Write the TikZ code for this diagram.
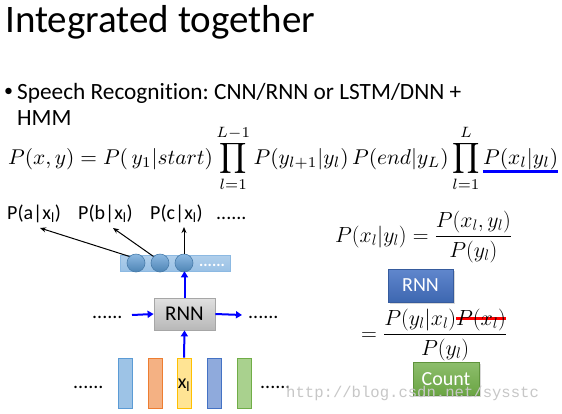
\documentclass[tikz,border=0pt]{standalone}
\usepackage{amsmath}
\usepackage{fontspec}
\setmainfont{Carlito}[Ligatures=NoCommon]
\newfontfamily\wmfont{Liberation Mono}
\usetikzlibrary{arrows.meta,shadows}
\frenchspacing
\definecolor{lbfill}{HTML}{9DC3E6}\definecolor{lbdraw}{HTML}{5B9BD5}
\definecolor{sfill}{HTML}{F4B183}\definecolor{sdraw}{HTML}{ED7D31}
\definecolor{yfill}{HTML}{FFD966}\definecolor{ydraw}{HTML}{FFC000}
\definecolor{pfill}{HTML}{8FAADC}\definecolor{pdraw}{HTML}{4472C4}
\definecolor{gfill}{HTML}{A9D18E}\definecolor{gdraw}{HTML}{70AD47}
\definecolor{rnnblue}{HTML}{4472C4}\definecolor{cntgreen}{HTML}{70AD47}
\newcommand\ulblue[1]{\setbox0\hbox{$#1$}\rlap{\color{blue}\rule[-4.2pt]{\wd0}{1.5pt}}\box0}
\newcommand\strikered[1]{\setbox0\hbox{$#1$}\rlap{\color{red}\rule[4.6pt]{\wd0}{2.7pt}}\box0}
\tikzset{
  lbl/.style={anchor=base west, inner sep=0pt, font=\fontsize{20}{22}\selectfont},
  dots/.style={anchor=base west, inner sep=0pt, font=\fontsize{20}{22}\selectfont},
  bluearr/.style={draw=blue, line width=2pt, -{Triangle[length=6pt,width=7pt]}},
  blackarr/.style={draw=black, line width=1pt, -{Stealth[length=6pt,width=5pt]}},
  inbar/.style={draw=#1draw, line width=0.8pt, fill=#1fill},
  ball/.style={circle, minimum size=18pt, inner sep=0pt, draw=lbdraw!80!black, line width=0.6pt, top color=lbdraw!70!white, bottom color=lbdraw!85!black},
  eq/.style={inner sep=0pt, font=\fontsize{20.74}{24}\selectfont},
}
\begin{document}
\begin{tikzpicture}[x=1pt,y=-1pt]
\useasboundingbox[fill=white] (0,0) rectangle (562,413);
% title
\node[anchor=base west, inner sep=0pt, font=\fontsize{39}{42}\selectfont] (title) at (5,32) {Integrated together};
% bullet
\node[anchor=base west, inner sep=0pt, font=\fontsize{18}{20}\selectfont] (bul) at (4,96) {•};
\node[anchor=base west, inner sep=0pt, font=\fontsize{23.3}{26}\selectfont] (b1) at (17,99) {Speech Recognition: CNN/RNN or LSTM/DNN +};
\node[anchor=base west, inner sep=0pt, font=\fontsize{23.3}{26}\selectfont] (b2) at (17,125) {HMM};
% main formula
\node[anchor=base west, inner sep=0pt] (f1) at (8,164) {\resizebox{550pt}{!}{$\displaystyle P(x,y)=P(\,y_1|start)\prod_{l=1}^{L-1}P(y_{l+1}|y_l)\,P(end|y_L)\prod_{l=1}^{L}\ulblue{P(x_l|y_l)}$}};
% labels
\node[lbl] (pa) at (7,219) {P(a|x\textsubscript{l})};
\node[lbl] (pb) at (78,219) {P(b|x\textsubscript{l})};
\node[lbl] (pc) at (150,219) {P(c|x\textsubscript{l})};
\node[dots] (pdots) at (216,219) {......};
% output bar
\node[draw=lbdraw!70!white, line width=0.6pt, top color=lbfill!80!white, bottom color=lbfill!95!lbdraw, minimum width=110pt, minimum height=16pt, inner sep=0pt] (bar) at (175,263) {};
\node[ball] (c1) at (136,263) {};
\node[ball] (c2) at (160,263) {};
\node[ball] (c3) at (184,263) {};
\node[anchor=base west, inner sep=0pt, text=white, font=\fontsize{16}{18}\selectfont\bfseries] (bdots) at (199,266) {......};
% RNN box
\node[draw=black!35, line width=0.8pt, top color=black!12, bottom color=black!28, minimum width=61pt, minimum height=32pt, inner sep=0pt, font=\fontsize{21}{24}\selectfont, drop shadow={opacity=0.25, shadow xshift=1pt, shadow yshift=-1pt}] (rnn) at (184.5,314) {RNN};
\node[dots] (ldots) at (92,318) {......};
\node[dots] (rdots) at (248,318) {......};
\coordinate (lin) at (132,315);
\coordinate (rout) at (242,315);
% inputs
\node[inbar=lb, minimum width=14pt, minimum height=50pt, inner sep=0pt] (i1) at (125,383) {};
\node[inbar=s, minimum width=14pt, minimum height=50pt, inner sep=0pt] (i2) at (155,383) {};
\node[inbar=y, fill=yfill!70!white, minimum width=14pt, minimum height=50pt, inner sep=0pt] (i3) at (184,383) {};
\node[inbar=p, minimum width=14pt, minimum height=50pt, inner sep=0pt] (i4) at (214,383) {};
\node[inbar=g, minimum width=14pt, minimum height=50pt, inner sep=0pt] (i5) at (244,383) {};
\node[anchor=base, inner sep=0pt, font=\fontsize{20}{22}\selectfont] (xl) at (184,388) {x\textsubscript{l}};
\node[dots] (ildots) at (73,388) {......};
\node[dots] (irdots) at (260,388) {......};
% arrows
\draw[blackarr] (c1.north west) -- (40,228);
\draw[blackarr] (c2.north west) -- (113,228);
\draw[blackarr] (c3.north) -- (184,227);
\draw[bluearr] (rnn.north) -- (bar.south -| rnn.north);
\draw[bluearr] (i3.north) -- (rnn.south);
\draw[bluearr] (lin) -- (rnn.west);
\draw[bluearr] (rnn.east) -- (rout);
% right formulas
\node[eq, anchor=base west] (e1) at (335,242) {\resizebox{177pt}{!}{$P(x_l|y_l)=\dfrac{P(x_l,y_l)}{P(y_l)}$}};
\node[draw=rnnblue!80!black, line width=0.6pt, top color=rnnblue!85!white, bottom color=rnnblue!90!black, text=white, minimum width=65pt, minimum height=33pt, inner sep=0pt, font=\fontsize{20}{22}\selectfont, drop shadow={opacity=0.3, shadow xshift=1.5pt, shadow yshift=-1.5pt}] (rnnb) at (420.5,285.5) {RNN};
\node[eq, anchor=base west] (e2) at (361,340) {\resizebox{146pt}{!}{$=\dfrac{P(y_l|x_l)\strikered{P(x_l)}}{P(y_l)}$}};
\node[draw=cntgreen!85!black, line width=0.6pt, top color=cntgreen!80!white, bottom color=cntgreen!95!black, text=white, minimum width=66pt, minimum height=33pt, inner sep=0pt, font=\fontsize{20}{22}\selectfont, drop shadow={opacity=0.3, shadow xshift=1.5pt, shadow yshift=-1.5pt}] (cnt) at (446,379) {Count};
% watermark
\node[anchor=base west, inner sep=0pt, text=black!22, font=\wmfont\fontsize{15.6}{18}\selectfont] (wm) at (286,397) {http://blog.csdn.net/sysstc};
\end{tikzpicture}
\end{document}
